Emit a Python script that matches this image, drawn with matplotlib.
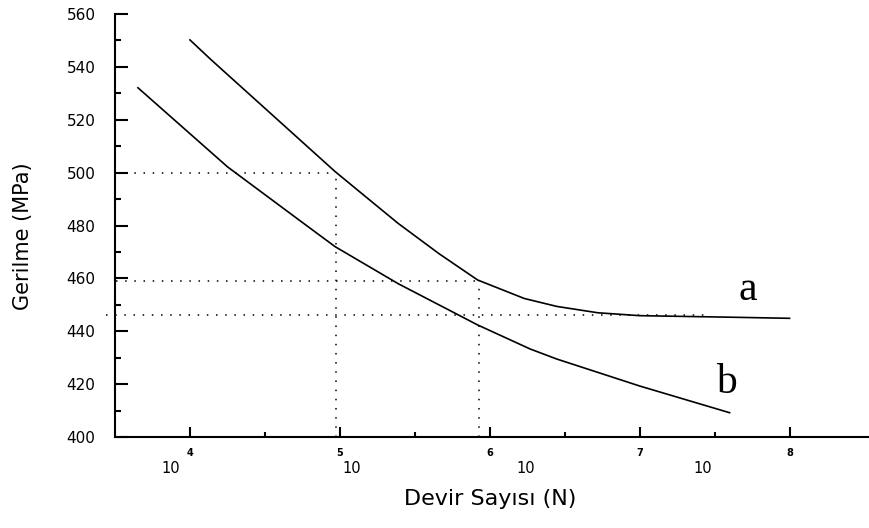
import matplotlib
matplotlib.use('Agg')
import matplotlib.pyplot as plt
import matplotlib.transforms as mtransforms
import numpy as np

# Curve a
a_N = [1.0e4, 1.39e4, 9.3e4, 1.45e5, 2.45e5, 4.6e5, 8.3e5, 1.7e6, 2.8e6, 5.25e6, 1.0e7, 4.2e7, 1.0e8]
a_S = [550.2, 542.6, 500.4, 491.4, 480.8, 469.3, 459.4, 452.4, 449.4, 447.0, 445.9, 445.3, 444.9]

# Curve b
b_N = [4.5e3, 1.78e4, 5.37e4, 9.3e4, 2.45e5, 8.3e5, 1.86e6, 2.8e6, 1.0e7, 3.98e7]
b_S = [532.1, 502.2, 482.0, 472.0, 458.0, 442.4, 433.3, 429.5, 419.3, 409.2]

# dotted guide lines: (stress level, x start, x end)
guide_h = [(500, 3.2e3, 9.4e4), (459, 3.2e3, 8.4e5), (446, 2.75e3, 2.7e7)]
# vertical guides: (N, top stress)
guide_v = [(9.4e4, 500), (8.5e5, 459)]

x_major = [1e4, 1e5, 1e6, 1e7, 1e8]
x_labels = ['4', '5', '6', '7', '8']
x_minor = [10**4.5, 10**5.5, 10**6.5, 10**7.5]
ten_pos = [10**3.87, 10**5.08, 10**6.24, 10**7.42]

fig = plt.figure(figsize=(8.69, 5.28), dpi=100)
ax = fig.add_axes([0.1323, 0.1723, 0.8677, 0.8012])

ax.plot(a_N, a_S, color='black', lw=1.2)
ax.plot(b_N, b_S, color='black', lw=1.2)

for y, x0, x1 in guide_h:
    ax.plot([x0, x1], [y, y], color='black', lw=1.1, ls=(0, (1, 5)), clip_on=False)
for x, y in guide_v:
    ax.plot([x, x], [400, y], color='black', lw=1.1, ls=(0, (1, 5)))

ax.text(10**7.72, 455.6, 'a', family='Liberation Serif', fontsize=30, ha='center', va='center')
ax.text(10**7.58, 420.4, 'b', family='Liberation Serif', fontsize=30, ha='center', va='center')

ax.set_xscale('log')
ax.set_xlim(10**3.5, 10**8.53)
ax.set_ylim(400, 560)

ax.set_xticks(x_major)
ax.set_xticklabels(x_labels, fontsize=7, fontweight='bold')
ax.set_xticks(x_minor, minor=True)
ax.set_xticklabels([], minor=True)
ax.set_yticks(np.arange(400, 561, 20))
ax.set_yticks(np.arange(410, 560, 20), minor=True)

ax.tick_params(axis='y', which='major', direction='in', length=9, width=1.5, pad=14, labelsize=11)
ax.tick_params(axis='y', which='minor', direction='in', length=4.5, width=1.5)
ax.tick_params(axis='x', which='major', direction='in', length=7, width=1.5, pad=8)
ax.tick_params(axis='x', which='minor', direction='in', length=3.5, width=1.5)

trans = mtransforms.blended_transform_factory(ax.transData, ax.transAxes)
for x in ten_pos:
    ax.text(x, -0.075, '10', transform=trans, ha='center', va='center', fontsize=10.5)

for s in ['top', 'right']:
    ax.spines[s].set_visible(False)
for s in ['left', 'bottom']:
    ax.spines[s].set_linewidth(1.5)

ax.set_xlabel('Devir Sayısı (N)', fontsize=16, va='center')
ax.xaxis.set_label_coords(0.497, -0.147)
ax.set_ylabel('Gerilme (MPa)', fontsize=15, va='center')
ax.yaxis.set_label_coords(-0.122, 0.475)

plt.savefig('out.png', dpi=100)
